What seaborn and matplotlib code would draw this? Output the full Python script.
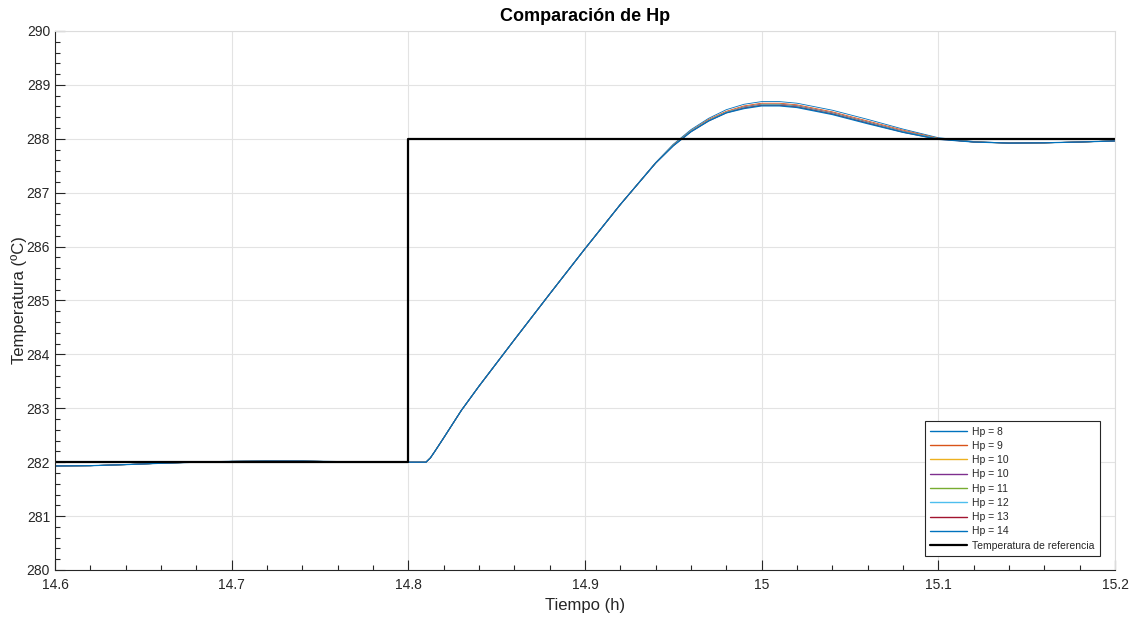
import matplotlib
matplotlib.use("Agg")
import matplotlib.pyplot as plt
from matplotlib.ticker import MultipleLocator
import seaborn as sns
import pandas as pd

# ---- data ----
t = [14.60, 14.62, 14.64, 14.66, 14.68, 14.70, 14.72, 14.74, 14.76, 14.78,
     14.80, 14.81, 14.8125, 14.815, 14.82, 14.83, 14.84, 14.85, 14.86, 14.88, 14.90,
     14.92, 14.94, 14.95, 14.96, 14.97, 14.98, 14.99, 15.00, 15.01, 15.02,
     15.04, 15.06, 15.08, 15.10, 15.12, 15.14, 15.16, 15.18, 15.20]

hp8 = [281.93, 281.935, 281.955, 281.98, 282.00, 282.015, 282.02, 282.02, 282.01, 282.005,
       282.00, 282.00, 282.08, 282.20, 282.45, 282.96, 283.41, 283.84, 284.27, 285.12, 285.96,
       286.78, 287.56, 287.90, 288.17, 288.38, 288.54, 288.64, 288.69, 288.69, 288.66,
       288.53, 288.36, 288.18, 288.02, 287.95, 287.92, 287.925, 287.94, 287.96]
hp9 = [281.93, 281.935, 281.955, 281.98, 282.00, 282.015, 282.02, 282.02, 282.01, 282.005,
       282.00, 282.00, 282.08, 282.20, 282.45, 282.96, 283.41, 283.84, 284.27, 285.12, 285.96,
       286.78, 287.55, 287.89, 288.15, 288.36, 288.51, 288.61, 288.66, 288.66, 288.63,
       288.50, 288.33, 288.16, 288.01, 287.945, 287.92, 287.925, 287.94, 287.96]
hp10a = [281.93, 281.935, 281.955, 281.98, 282.00, 282.015, 282.02, 282.02, 282.01, 282.005,
         282.00, 282.00, 282.08, 282.20, 282.45, 282.96, 283.41, 283.84, 284.27, 285.12, 285.96,
         286.78, 287.55, 287.88, 288.14, 288.34, 288.49, 288.59, 288.64, 288.64, 288.61,
         288.48, 288.31, 288.14, 288.00, 287.94, 287.92, 287.925, 287.94, 287.96]
hp10b = [281.93, 281.935, 281.955, 281.98, 282.00, 282.015, 282.02, 282.02, 282.01, 282.005,
         282.00, 282.00, 282.08, 282.20, 282.45, 282.96, 283.41, 283.84, 284.27, 285.12, 285.96,
         286.78, 287.55, 287.88, 288.14, 288.34, 288.49, 288.59, 288.64, 288.64, 288.61,
         288.48, 288.31, 288.14, 288.00, 287.94, 287.92, 287.925, 287.94, 287.96]
hp11 = [281.93, 281.935, 281.955, 281.98, 282.00, 282.015, 282.02, 282.02, 282.01, 282.005,
        282.00, 282.00, 282.08, 282.20, 282.45, 282.96, 283.41, 283.84, 284.27, 285.12, 285.96,
        286.78, 287.55, 287.88, 288.14, 288.34, 288.49, 288.58, 288.63, 288.63, 288.60,
        288.47, 288.30, 288.13, 288.00, 287.94, 287.92, 287.925, 287.94, 287.96]
hp12 = [281.93, 281.935, 281.955, 281.98, 282.00, 282.015, 282.02, 282.02, 282.01, 282.005,
        282.00, 282.00, 282.08, 282.20, 282.45, 282.96, 283.41, 283.84, 284.27, 285.12, 285.96,
        286.78, 287.55, 287.88, 288.14, 288.34, 288.49, 288.58, 288.63, 288.63, 288.60,
        288.47, 288.30, 288.13, 288.00, 287.94, 287.92, 287.925, 287.94, 287.96]
hp13 = [281.93, 281.935, 281.955, 281.98, 282.00, 282.015, 282.02, 282.02, 282.01, 282.005,
        282.00, 282.00, 282.08, 282.20, 282.45, 282.96, 283.41, 283.84, 284.27, 285.12, 285.96,
        286.78, 287.55, 287.87, 288.13, 288.33, 288.48, 288.57, 288.62, 288.62, 288.59,
        288.46, 288.29, 288.12, 287.99, 287.94, 287.92, 287.925, 287.94, 287.96]
hp14 = [281.93, 281.935, 281.955, 281.98, 282.00, 282.015, 282.02, 282.02, 282.01, 282.005,
        282.00, 282.00, 282.08, 282.20, 282.45, 282.96, 283.41, 283.84, 284.27, 285.12, 285.96,
        286.78, 287.55, 287.87, 288.13, 288.33, 288.48, 288.56, 288.61, 288.61, 288.58,
        288.45, 288.28, 288.12, 287.99, 287.94, 287.92, 287.925, 287.94, 287.96]

ref_t = [14.60, 14.80, 14.80, 15.20]
ref_T = [282.0, 282.0, 288.0, 288.0]

labels = ["Hp = 8", "Hp = 9", "Hp = 10", "Hp = 10", "Hp = 11", "Hp = 12", "Hp = 13", "Hp = 14"]
series = [hp8, hp9, hp10a, hp10b, hp11, hp12, hp13, hp14]
colors = ["#0072BD", "#D95319", "#EDB120", "#7E2F8E", "#77AC30", "#4DBEEE", "#A2142F", "#0072BD"]

x_ticks = [14.6, 14.7, 14.8, 14.9, 15.0, 15.1, 15.2]
x_tick_labels = ["14.6", "14.7", "14.8", "14.9", "15", "15.1", "15.2"]
y_ticks = [280, 281, 282, 283, 284, 285, 286, 287, 288, 289, 290]

# ---- style ----
sns.set_theme(style="white")
plt.rcParams["font.family"] = ["Liberation Sans", "DejaVu Sans"]

fig = plt.figure(figsize=(11.29, 6.17), dpi=100)
ax = fig.add_axes([0.0487, 0.0762, 0.9389, 0.8736])

n = len(series)
for i, (vals, lab, col) in enumerate(zip(series, labels, colors)):
    df = pd.DataFrame({"t": t, "T": vals})
    lw = 0.9 if i == n - 1 else 0.6
    sns.lineplot(data=df, x="t", y="T", ax=ax, color=col, linewidth=lw,
                 label=lab, sort=False, estimator=None)

dfr = pd.DataFrame({"t": ref_t, "T": ref_T})
sns.lineplot(data=dfr, x="t", y="T", ax=ax, color="black", linewidth=1.6,
             label="Temperatura de referencia", sort=False, estimator=None)

ax.set_xlim(14.6, 15.2)
ax.set_ylim(280, 290)
ax.set_xticks(x_ticks)
ax.set_xticklabels(x_tick_labels)
ax.set_yticks(y_ticks)
ax.xaxis.set_minor_locator(MultipleLocator(0.02))
ax.yaxis.set_minor_locator(MultipleLocator(0.2))

ax.grid(True, which="major", color="#e3e3e3", linewidth=0.8)
ax.set_axisbelow(True)

ax.tick_params(which="both", direction="in", colors="#262626", labelsize=10,
               top=False, right=False, left=True, bottom=True)
ax.tick_params(which="major", length=7, width=0.8)
ax.tick_params(which="minor", length=3.5, width=0.8)
ax.tick_params(axis="x", pad=6)

for s in ["left", "bottom"]:
    ax.spines[s].set_color("#262626")
    ax.spines[s].set_linewidth(0.8)
for s in ["top", "right"]:
    ax.spines[s].set_color("#dcdcdc")
    ax.spines[s].set_linewidth(0.8)

ax.set_xlabel("Tiempo (h)", fontsize=12, color="#262626", labelpad=4)
ax.set_ylabel("Temperatura (ºC)", fontsize=12, color="#262626", labelpad=0)
ax.set_title("Comparación de Hp", fontsize=13, fontweight="bold", color="black", pad=7)

leg = ax.legend(loc="lower right", bbox_to_anchor=(0.9858, 0.026), fontsize=7.5,
                frameon=True, fancybox=False, framealpha=1, edgecolor="#262626",
                handlelength=3.5, labelspacing=0.41, borderpad=0.5, handletextpad=0.55,
                borderaxespad=0)
leg.get_frame().set_linewidth(0.8)
for ln in leg.get_lines()[:-1]:
    ln.set_linewidth(1.0)

fig.savefig("out.png", dpi=100)
